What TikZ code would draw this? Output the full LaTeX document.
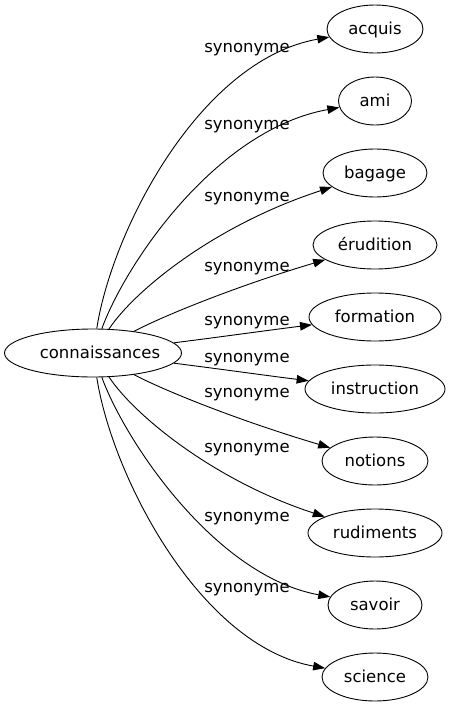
\documentclass[tikz,border=0pt]{standalone}
\usepackage{fontspec}
\setmainfont{DejaVu Sans}
\usetikzlibrary{shapes.geometric,arrows.meta}
\begin{document}
\begin{tikzpicture}[x=1pt,y=-1pt,
  word/.style={draw, ellipse, line width=0.9pt, minimum height=48pt, inner sep=0pt,
    text height=14pt, text depth=3pt, font=\fontsize{16.5}{20}\selectfont},
  rel/.style={font=\fontsize{16.5}{20}\selectfont, anchor=base, inner sep=0pt},
  link/.style={line width=0.9pt, -{Triangle[length=12pt,width=8.5pt]}}]
\useasboundingbox (0,0) rectangle (450,707);
\node[word, minimum width=177pt] (c) at (93,353) {\makebox[0pt][c]{\hspace*{14pt}connaissances}};
\node[word, minimum width=96pt]  (acquis)      at (375,29)  {acquis};
\node[word, minimum width=73pt]  (ami)         at (375,101) {ami};
\node[word, minimum width=104pt] (bagage)      at (375,173) {bagage};
\node[word, minimum width=124pt] (erudition)   at (375,245) {érudition};
\node[word, minimum width=132pt] (formation)   at (375,317) {formation};
\node[word, minimum width=140pt] (instruction) at (375,389) {instruction};
\node[word, minimum width=106pt] (notions)     at (375,461) {notions};
\node[word, minimum width=134pt] (rudiments)   at (375,533) {rudiments};
\node[word, minimum width=94pt]  (savoir)      at (375,605) {savoir};
\node[word, minimum width=106pt] (science)     at (375,677) {science};

\node[rel] (l1)  at (247,52.5)  {synonyme};
\node[rel] (l2)  at (247,129.5) {synonyme};
\node[rel] (l3)  at (247,201.5) {synonyme};
\node[rel] (l4)  at (247,271.5) {synonyme};
\node[rel] (l5)  at (247,325.5) {synonyme};
\node[rel] (l6)  at (247,362.5) {synonyme};
\node[rel] (l7)  at (247,397.5) {synonyme};
\node[rel] (l8)  at (247,452.5) {synonyme};
\node[rel] (l9)  at (247,521.5) {synonyme};
\node[rel] (l10) at (247,592.5) {synonyme};

\draw[link] (c) .. controls (112,230) and (200,60) .. (acquis);
\draw[link] (c) .. controls (125,265) and (215,130) .. (ami);
\draw[link] (c) .. controls (135,290) and (215,225) .. (bagage);
\draw[link] (c) .. controls (165,315) and (240,285) .. (erudition);
\draw[link] (c) .. controls (220,337) and (270,330) .. (formation);
\draw[link] (c) .. controls (220,369) and (270,376) .. (instruction);
\draw[link] (c) .. controls (165,391) and (240,421) .. (notions);
\draw[link] (c) .. controls (135,416) and (215,481) .. (rudiments);
\draw[link] (c) .. controls (125,441) and (215,576) .. (savoir);
\draw[link] (c) .. controls (112,476) and (200,646) .. (science);
\end{tikzpicture}
\end{document}
